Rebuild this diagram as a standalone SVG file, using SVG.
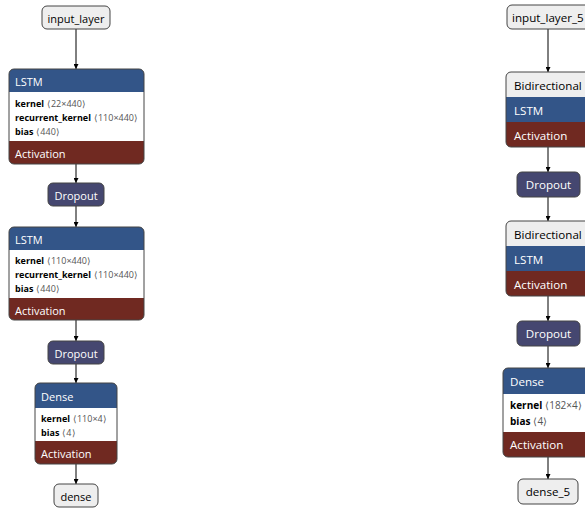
<svg xmlns="http://www.w3.org/2000/svg" width="585" height="508" viewBox="0 0 585 508">
<style>
.bg{fill:#ffffff}
.inp{fill:#eeeeee}
.layer{fill:#335588}
.drop{fill:#454770}
.act{fill:#702921}
.body{fill:#ffffff}
.gray{fill:#eeeeee}
.border{fill:none;stroke:#444;stroke-width:1}
.t{font-family:"Open Sans","Noto Sans",sans-serif;dominant-baseline:central}
.w{fill:#ffffff}
.k{fill:#000000}
.s{font-size:11px}
.m{font-size:11.6px}
.a{font-size:9px}
.a2{font-size:10px}
.n{font-weight:bold}
.v{fill:#555555}
.edge{stroke:#000;stroke-width:1;fill:none;marker-end:url(#arr)}
</style>
<defs>
<marker id="arr" viewBox="0 0 10 10" refX="10" refY="5" markerWidth="5" markerHeight="5" markerUnits="userSpaceOnUse" orient="auto">
<path d="M0,0 L10,5 L0,10 z" fill="#000"/>
</marker>
<clipPath id="c1"><rect x="9" y="69" width="135" height="95" rx="5"/></clipPath>
<clipPath id="c2"><rect x="9" y="227" width="135" height="93" rx="5"/></clipPath>
<clipPath id="c3"><rect x="35" y="383" width="82" height="81" rx="5"/></clipPath>
<clipPath id="c4"><rect x="506" y="72" width="84" height="75" rx="5"/></clipPath>
<clipPath id="c5"><rect x="506" y="221" width="84" height="75" rx="5"/></clipPath>
<clipPath id="c6"><rect x="503" y="368" width="90" height="89" rx="5"/></clipPath>
</defs>
<rect class="bg" x="0" y="0" width="585" height="508"/>

<g id="edges">
<line class="edge" x1="76" y1="29" x2="76" y2="69"/>
<line class="edge" x1="76" y1="164" x2="76" y2="183"/>
<line class="edge" x1="76" y1="206" x2="76" y2="227"/>
<line class="edge" x1="76" y1="320" x2="76" y2="341"/>
<line class="edge" x1="76" y1="364" x2="76" y2="383"/>
<line class="edge" x1="76" y1="464" x2="76" y2="484"/>
<line class="edge" x1="548" y1="29" x2="548" y2="72"/>
<line class="edge" x1="548" y1="147" x2="548" y2="172"/>
<line class="edge" x1="548" y1="197" x2="548" y2="221"/>
<line class="edge" x1="548" y1="296" x2="548" y2="321"/>
<line class="edge" x1="548" y1="346" x2="548" y2="368"/>
<line class="edge" x1="548" y1="457" x2="548" y2="479"/>
</g>

<g id="input_layer">
<rect class="inp" x="42" y="6" width="68" height="23" rx="5"/>
<rect class="border" x="42" y="6" width="68" height="23" rx="5"/>
<text class="t s k" x="76" y="18" text-anchor="middle">input_layer</text>
</g>

<g id="lstm_1">
<g clip-path="url(#c1)">
<rect class="layer" x="9" y="69" width="135" height="23"/>
<rect class="body" x="9" y="92" width="135" height="49"/>
<rect class="act" x="9" y="141" width="135" height="23"/>
</g>
<rect class="border" x="9" y="69" width="135" height="95" rx="5"/>
<text class="t s w" x="15" y="81">LSTM</text>
<text class="t a" x="15" y="103"><tspan class="n">kernel</tspan><tspan class="v" dx="3">⟨22×440⟩</tspan></text>
<text class="t a" x="15" y="117"><tspan class="n">recurrent_kernel</tspan><tspan class="v" dx="3">⟨110×440⟩</tspan></text>
<text class="t a" x="15" y="131"><tspan class="n">bias</tspan><tspan class="v" dx="3">⟨440⟩</tspan></text>
<text class="t s w" x="15" y="153">Activation</text>
</g>

<g id="dropout_1">
<rect class="drop" x="48" y="183" width="56" height="23" rx="5"/>
<rect class="border" x="48" y="183" width="56" height="23" rx="5"/>
<text class="t s w" x="76" y="195" text-anchor="middle">Dropout</text>
</g>

<g id="lstm_2">
<g clip-path="url(#c2)">
<rect class="layer" x="9" y="227" width="135" height="23"/>
<rect class="body" x="9" y="250" width="135" height="48"/>
<rect class="act" x="9" y="298" width="135" height="22"/>
</g>
<rect class="border" x="9" y="227" width="135" height="93" rx="5"/>
<text class="t s w" x="15" y="239">LSTM</text>
<text class="t a" x="15" y="260"><tspan class="n">kernel</tspan><tspan class="v" dx="3">⟨110×440⟩</tspan></text>
<text class="t a" x="15" y="274"><tspan class="n">recurrent_kernel</tspan><tspan class="v" dx="3">⟨110×440⟩</tspan></text>
<text class="t a" x="15" y="288"><tspan class="n">bias</tspan><tspan class="v" dx="3">⟨440⟩</tspan></text>
<text class="t s w" x="15" y="310">Activation</text>
</g>

<g id="dropout_2">
<rect class="drop" x="48" y="341" width="56" height="23" rx="5"/>
<rect class="border" x="48" y="341" width="56" height="23" rx="5"/>
<text class="t s w" x="76" y="353" text-anchor="middle">Dropout</text>
</g>

<g id="dense_1">
<g clip-path="url(#c3)">
<rect class="layer" x="35" y="383" width="82" height="25"/>
<rect class="body" x="35" y="408" width="82" height="33"/>
<rect class="act" x="35" y="441" width="82" height="23"/>
</g>
<rect class="border" x="35" y="383" width="82" height="81" rx="5"/>
<text class="t s w" x="41" y="396">Dense</text>
<text class="t a" x="41" y="418"><tspan class="n">kernel</tspan><tspan class="v" dx="3">⟨110×4⟩</tspan></text>
<text class="t a" x="41" y="432"><tspan class="n">bias</tspan><tspan class="v" dx="3">⟨4⟩</tspan></text>
<text class="t s w" x="41" y="453">Activation</text>
</g>

<g id="dense">
<rect class="inp" x="54" y="484" width="44" height="23" rx="5"/>
<rect class="border" x="54" y="484" width="44" height="23" rx="5"/>
<text class="t s k" x="76" y="496" text-anchor="middle">dense</text>
</g>

<g id="input_layer_5">
<rect class="inp" x="507" y="5" width="84" height="24" rx="5"/>
<rect class="border" x="507" y="5" width="84" height="24" rx="5"/>
<text class="t m k" x="512" y="17">input_layer_5</text>
</g>

<g id="bidirectional_1">
<g clip-path="url(#c4)">
<rect class="gray" x="506" y="72" width="84" height="25"/>
<rect class="layer" x="506" y="97" width="84" height="25"/>
<rect class="act" x="506" y="122" width="84" height="25"/>
</g>
<rect class="border" x="506" y="72" width="84" height="75" rx="5"/>
<text class="t m k" x="514" y="85">Bidirectional</text>
<text class="t m w" x="514" y="110">LSTM</text>
<text class="t m w" x="514" y="135">Activation</text>
</g>

<g id="dropout_3">
<rect class="drop" x="517" y="172" width="63" height="25" rx="5"/>
<rect class="border" x="517" y="172" width="63" height="25" rx="5"/>
<text class="t m w" x="548.5" y="184.5" text-anchor="middle">Dropout</text>
</g>

<g id="bidirectional_2">
<g clip-path="url(#c5)">
<rect class="gray" x="506" y="221" width="84" height="25"/>
<rect class="layer" x="506" y="246" width="84" height="25"/>
<rect class="act" x="506" y="271" width="84" height="25"/>
</g>
<rect class="border" x="506" y="221" width="84" height="75" rx="5"/>
<text class="t m k" x="514" y="234">Bidirectional</text>
<text class="t m w" x="514" y="259">LSTM</text>
<text class="t m w" x="514" y="284">Activation</text>
</g>

<g id="dropout_4">
<rect class="drop" x="517" y="321" width="63" height="25" rx="5"/>
<rect class="border" x="517" y="321" width="63" height="25" rx="5"/>
<text class="t m w" x="548.5" y="333.5" text-anchor="middle">Dropout</text>
</g>

<g id="dense_2">
<g clip-path="url(#c6)">
<rect class="layer" x="503" y="368" width="90" height="26"/>
<rect class="body" x="503" y="394" width="90" height="38"/>
<rect class="act" x="503" y="432" width="90" height="25"/>
</g>
<rect class="border" x="503" y="368" width="90" height="89" rx="5"/>
<text class="t m w" x="510" y="381">Dense</text>
<text class="t a2" x="510" y="405"><tspan class="n">kernel</tspan><tspan class="v" dx="3">⟨182×4⟩</tspan></text>
<text class="t a2" x="510" y="421"><tspan class="n">bias</tspan><tspan class="v" dx="3">⟨4⟩</tspan></text>
<text class="t m w" x="510" y="444.5">Activation</text>
</g>

<g id="dense_5">
<rect class="inp" x="518" y="479" width="60" height="25" rx="5"/>
<rect class="border" x="518" y="479" width="60" height="25" rx="5"/>
<text class="t m k" x="548" y="491.5" text-anchor="middle">dense_5</text>
</g>
</svg>
